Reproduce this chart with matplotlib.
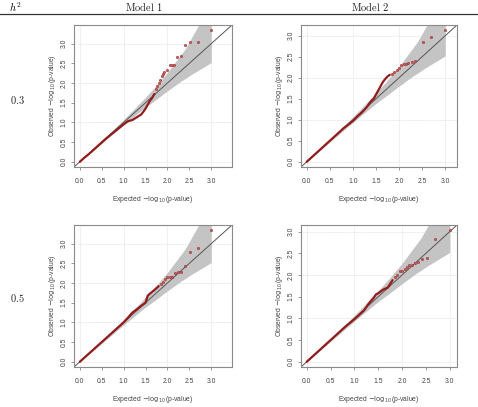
import matplotlib
matplotlib.use("Agg")
import matplotlib.pyplot as plt
from matplotlib.lines import Line2D

plt.rcParams['font.family'] = ['Liberation Sans', 'DejaVu Sans']

# ---- table text ----
header_h = r"$h^2$"
col_labels = ["Model 1", "Model 2"]
row_labels = ["0.3", "0.5"]
tick_values = [0.0, 0.5, 1.0, 1.5, 2.0, 2.5, 3.0]
tick_labels = ["0.0", "0.5", "1.0", "1.5", "2.0", "2.5", "3.0"]
grid_values = [0, 1, 2, 3]

# ---- 90% confidence band (expected vs -log10 bounds) ----
band_expected = [0.0, 0.5, 1.0, 1.3, 1.49, 1.7, 2.0, 2.3, 2.4, 2.52, 2.7, 3.0]
band_lower = [0.0, 0.468, 0.936, 1.21, 1.38, 1.55, 1.80, 2.04, 2.11, 2.20, 2.32, 2.52]
band_upper = [0.0, 0.535, 1.07, 1.41, 1.63, 1.88, 2.27, 2.71, 2.86, 3.09, 3.45, 4.29]

# ---- Panel h2=0.3, Model 1 ----
p1_trail_exp = [0.0, 0.1, 0.2, 0.3, 0.4, 0.5, 0.6, 0.7, 0.8, 0.9, 1.0, 1.1, 1.2, 1.3, 1.4, 1.45, 1.5, 1.55, 1.6, 1.65, 1.7]
p1_trail_obs = [0.0, 0.1, 0.19, 0.29, 0.39, 0.49, 0.59, 0.68, 0.77, 0.86, 0.95, 1.03, 1.06, 1.13, 1.2, 1.27, 1.35, 1.45, 1.55, 1.62, 1.72]
p1_tail_exp = [1.74, 1.77, 1.80, 1.83, 1.87, 1.90, 1.93, 1.99, 2.05, 2.10, 2.16, 2.22, 2.30, 2.40, 2.52, 2.70, 3.0]
p1_tail_obs = [1.85, 1.93, 2.0, 2.08, 2.17, 2.22, 2.27, 2.33, 2.45, 2.46, 2.47, 2.67, 2.69, 2.96, 3.03, 3.04, 3.34]

# ---- Panel h2=0.3, Model 2 ----
p2_trail_exp = [0.0, 0.2, 0.4, 0.6, 0.8, 1.0, 1.1, 1.2, 1.3, 1.35, 1.4, 1.45, 1.5, 1.55, 1.6, 1.65, 1.7, 1.75, 1.8]
p2_trail_obs = [0.0, 0.2, 0.4, 0.6, 0.8, 0.97, 1.08, 1.18, 1.3, 1.38, 1.45, 1.5, 1.6, 1.7, 1.8, 1.9, 1.97, 2.03, 2.07]
p2_tail_exp = [1.85, 1.9, 1.95, 2.0, 2.05, 2.1, 2.15, 2.2, 2.27, 2.35, 2.52, 2.70, 3.0]
p2_tail_obs = [2.1, 2.14, 2.18, 2.24, 2.3, 2.33, 2.33, 2.36, 2.37, 2.40, 2.84, 2.98, 3.13]

# ---- Panel h2=0.5, Model 1 ----
p3_trail_exp = [0.0, 0.2, 0.4, 0.6, 0.8, 1.0, 1.1, 1.2, 1.3, 1.4, 1.5, 1.55, 1.6, 1.7, 1.8]
p3_trail_obs = [0.0, 0.2, 0.4, 0.6, 0.8, 1.0, 1.12, 1.25, 1.33, 1.42, 1.5, 1.68, 1.73, 1.82, 1.92]
p3_tail_exp = [1.85, 1.9, 1.95, 2.0, 2.05, 2.1, 2.17, 2.25, 2.3, 2.4, 2.52, 2.7, 3.0]
p3_tail_obs = [1.97, 2.03, 2.1, 2.14, 2.14, 2.15, 2.26, 2.27, 2.28, 2.43, 2.78, 2.9, 3.34]

# ---- Panel h2=0.5, Model 2 ----
p4_trail_exp = [0.0, 0.2, 0.4, 0.6, 0.8, 1.0, 1.1, 1.2, 1.3, 1.4, 1.45, 1.5, 1.6, 1.7, 1.8]
p4_trail_obs = [0.0, 0.2, 0.4, 0.6, 0.8, 0.98, 1.08, 1.18, 1.34, 1.47, 1.55, 1.58, 1.66, 1.71, 1.88]
p4_tail_exp = [1.85, 1.9, 1.95, 2.0, 2.05, 2.1, 2.15, 2.2, 2.27, 2.34, 2.41, 2.52, 2.7, 3.0]
p4_tail_obs = [1.95, 2.0, 2.08, 2.1, 2.14, 2.18, 2.22, 2.24, 2.28, 2.30, 2.36, 2.39, 2.83, 3.03]

panels = [
    (p1_trail_exp, p1_trail_obs, p1_tail_exp, p1_tail_obs),
    (p2_trail_exp, p2_trail_obs, p2_tail_exp, p2_tail_obs),
    (p3_trail_exp, p3_trail_obs, p3_tail_exp, p3_tail_obs),
    (p4_trail_exp, p4_trail_obs, p4_tail_exp, p4_tail_obs),
]

W, H = 478, 407
fig = plt.figure(figsize=(W / 100, H / 100), dpi=100)

# axes rectangles in pixels: left, top, right, bottom
rects_px = [(74, 25, 232, 167), (301, 25, 457, 167), (74, 225, 232, 367), (301, 225, 457, 367)]

point_color = '#931c1c'
band_color = '#c4c4c4'
spine_color = '#8a8a8a'
text_color = '#444444'

for (te, to, ue, uo), (l, t, r, b) in zip(panels, rects_px):
    ax = fig.add_axes([l / W, 1 - b / H, (r - l) / W, (b - t) / H])
    m = max(to + uo)
    lo, hi = -0.04 * m, 1.04 * m
    ax.fill_between(band_expected, band_lower, band_upper, color=band_color, lw=0, zorder=1)
    for g in grid_values:
        ax.axvline(g, color='#dcdcdc', lw=0.6, ls=(0, (1, 1)), zorder=0.5)
        ax.axhline(g, color='#dcdcdc', lw=0.6, ls=(0, (1, 1)), zorder=0.5)
    ax.plot([lo, hi], [lo, hi], color='#555555', lw=0.7, zorder=2)
    ax.plot(te, to, color=point_color, lw=1.6, solid_capstyle='round', zorder=3)
    ax.plot(ue, uo, ls='none', marker='o', ms=1.6, mfc='#c06060', mec='#a83a3a', mew=0.5, zorder=3)
    ax.set_xlim(lo, hi)
    ax.set_ylim(lo, hi)
    ax.set_xticks(tick_values)
    ax.set_xticklabels(tick_labels)
    ax.set_yticks(tick_values)
    ax.set_yticklabels(tick_labels)
    ax.tick_params(axis='both', labelsize=4.9, colors=spine_color, labelcolor=text_color,
                   length=2.2, width=0.6)
    ax.tick_params(axis='x', pad=5.5)
    ax.tick_params(axis='y', pad=2.5, labelrotation=90)
    for lab in ax.get_yticklabels():
        lab.set_va('center')
    for s in ax.spines.values():
        s.set_color(spine_color)
        s.set_linewidth(0.8)
    ax.set_xlabel(r"Expected $-\log_{10}$(p-value)", fontsize=4.9, color=text_color)
    ax.set_ylabel(r"Observed $-\log_{10}$(p-value)", fontsize=4.9, color=text_color)
    ax.xaxis.set_label_coords(0.5, -0.19)
    ax.yaxis.set_label_coords(-0.10, 0.5)

# header
fig.text(15 / W, 1 - 7 / H, header_h, fontsize=7.5, ha='center', va='center', math_fontfamily='cm')
for x, lab in zip([144, 370], col_labels):
    fig.text(x / W, 1 - 7 / H, r"$\mathrm{" + lab.replace(" ", r"\ ") + "}$", fontsize=7.5,
             ha='center', va='center', math_fontfamily='cm', color='#222222')
fig.add_artist(Line2D([0, 1], [1 - 14 / H, 1 - 14 / H], transform=fig.transFigure, color='#333333', lw=0.9))
for y, lab in zip([100, 298], row_labels):
    fig.text(17 / W, 1 - y / H, r"$\mathrm{" + lab + "}$", fontsize=7.5, ha='center', va='center',
             math_fontfamily='cm', color='#222222')

fig.savefig("out.png", dpi=100)
